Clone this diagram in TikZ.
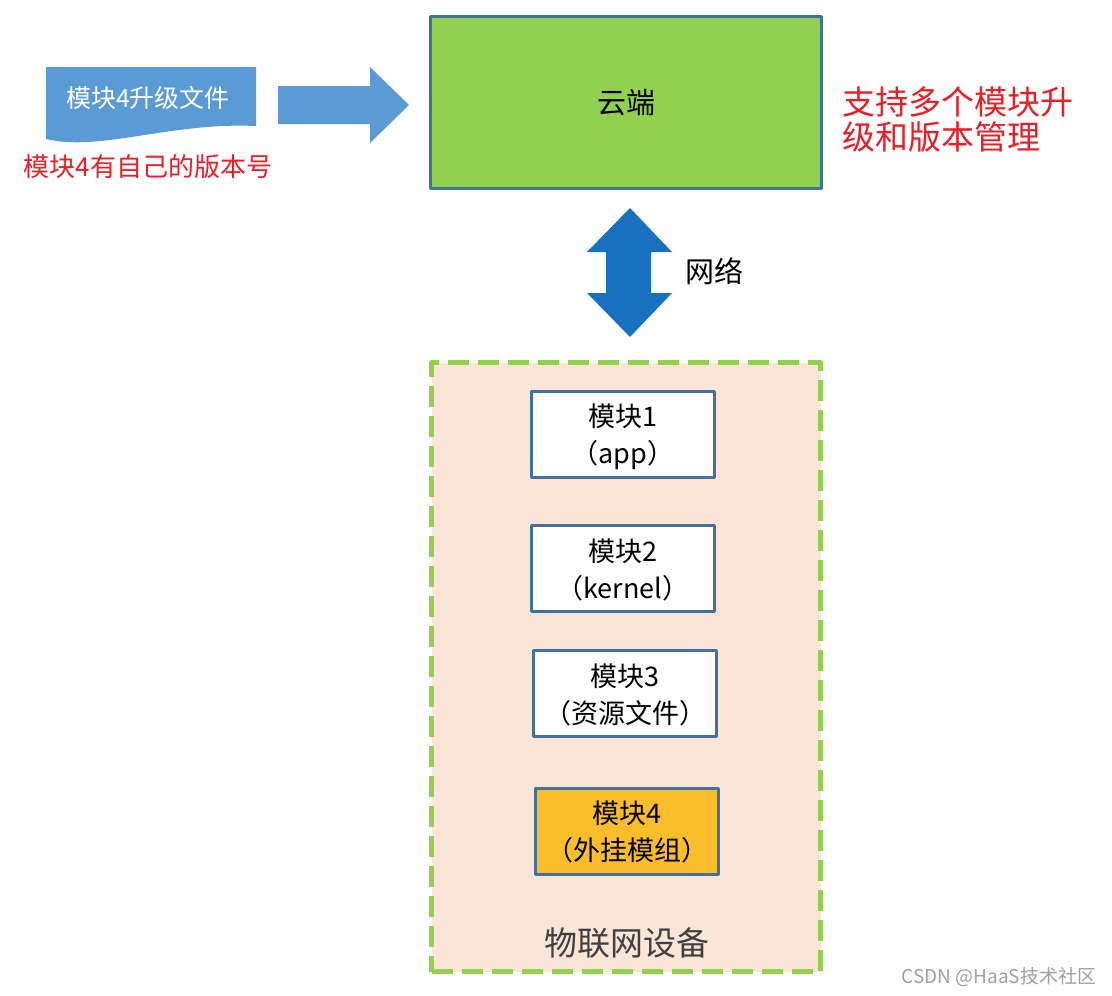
\documentclass[tikz,border=0pt]{standalone}
\usepackage{fontspec}
\usepackage{tikz}
\usepackage{xcolor}
\newfontfamily\cjk{Noto Sans CJK SC}
\definecolor{docblue}{RGB}{91,155,213}
\definecolor{netblue}{RGB}{24,112,192}
\definecolor{edgeblue}{RGB}{65,113,156}
\definecolor{cloudgreen}{RGB}{146,208,80}
\definecolor{iotfill}{RGB}{251,229,214}
\definecolor{modgold}{RGB}{250,190,42}
\definecolor{notered}{RGB}{238,28,36}
\definecolor{iotgray}{RGB}{64,64,64}
\definecolor{markgray}{RGB}{160,160,160}

\begin{document}
\begin{tikzpicture}[line cap=round,line join=round,x=1pt,y=-1pt,
    font=\cjk,
    box/.style={draw=edgeblue,line width=3pt,line cap=rect,inner sep=0pt,align=center},
    modbox/.style={box,fill=white,minimum width=183pt,minimum height=86pt,
        text depth=0pt,font=\cjk\fontsize{27}{37}\selectfont},
    note/.style={text=notered,inner sep=0pt}]
                \useasboundingbox[fill=white] (0,0) rectangle (1112,996);
                % upgrade file and arrow
                \fill[docblue] (46,67) -- (256,67) -- (256,126)
                    .. controls (170,122) and (100,152) .. (46,139) -- cycle;
                \node[text=white,inner sep=0pt,font=\cjk\fontsize{25}{30}\selectfont] (doc) at (148,98) {模块4升级文件};
                \node[note,font=\cjk\fontsize{26}{30}\selectfont] (docnote) at (148,167) {模块4有自己的版本号};
                \fill[docblue] (278,86) -- (370,86) -- (370,67) -- (409,105)
                    -- (370,143) -- (370,124) -- (278,124) -- cycle;
                % cloud
                \node[box,fill=cloudgreen,minimum width=391pt,minimum height=172pt,
                    font=\cjk\fontsize{29}{34}\selectfont] (cloud) at (626,102.5) {云端};
                \node[note,anchor=west,align=left,font=\cjk\fontsize{33}{35}\selectfont] (cloudnote) at (842,120) {支持多个模块升\\级和版本管理};
                % network
                \fill[netblue] (630,208) -- (672,252) -- (651,252) -- (651,293) -- (672,293)
                    -- (630,337) -- (587,293) -- (606,293) -- (606,252) -- (587,252) -- cycle;
                \node[inner sep=0pt,font=\cjk\fontsize{29}{34}\selectfont] (net) at (714,271) {网络};
                % device
                \node[draw=cloudgreen,fill=iotfill,line width=5pt,line cap=butt,
                    dash pattern=on 21pt off 9pt,minimum width=389pt,minimum height=609pt,
                    inner sep=0pt] (iot) at (626,667) {};
                \node[modbox] (mod1) at (623,434) {模块1\\（app）};
                \node[modbox] (mod2) at (623,568.5) {模块2\\（kernel）};
                \node[modbox] (mod3) at (625,693.5) {模块3\\（资源文件）};
                \node[modbox,fill=modgold] (mod4) at (627,831) {模块4\\（外挂模组）};
                \node[text=iotgray,inner sep=0pt,font=\cjk\fontsize{33}{36}\selectfont] (iotlabel) at (627,943) {物联网设备};
                \node[text=markgray,inner sep=0pt,font=\cjk\fontsize{19}{22}\selectfont] (mark) at (999,977) {CSDN @HaaS技术社区};
            \end{tikzpicture}
\end{document}
